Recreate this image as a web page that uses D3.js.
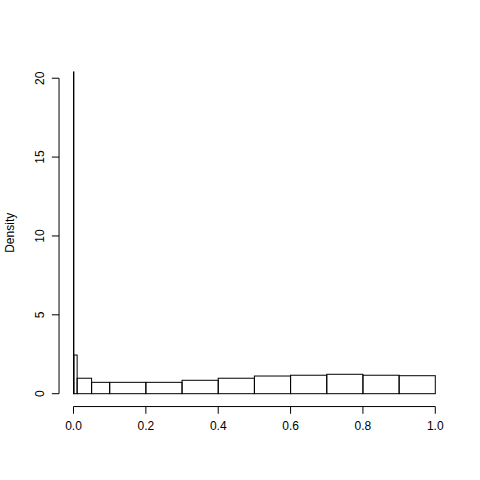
<!DOCTYPE html>
<html>
<head>
<meta charset="utf-8">
<script src="https://cdn.jsdelivr.net/npm/d3@7"></script>
<style>
  body { margin: 0; background: #fff; }
  text { font-family: "Liberation Sans", Arial, sans-serif; font-size: 12px; fill: #000; }
</style>
</head>
<body>
<svg width="480" height="480"></svg>
<script>
// histogram breaks and densities
const breaks = [0, 0.001, 0.01, 0.05, 0.1, 0.2, 0.3, 0.4, 0.5, 0.6, 0.7, 0.8, 0.9, 1.0];
const density = [20.4, 2.45, 0.98, 0.72, 0.72, 0.72, 0.85, 0.98, 1.12, 1.17, 1.23, 1.17, 1.14];
const xTicks = [0, 0.2, 0.4, 0.6, 0.8, 1.0];
const yTicks = [0, 5, 10, 15, 20];

const svg = d3.select("svg");
const plot = { left: 59.04, right: 449.76, top: 59.04, bottom: 406.56 };

// R style 4% padding on each side
const pad = (a, b) => { const d = (b - a) * 0.04; return [a - d, b + d]; };
const yMax = d3.max(density);

const x = d3.scaleLinear().domain(pad(0, 1)).range([plot.left, plot.right]);
const y = d3.scaleLinear().domain(pad(0, yMax)).range([plot.bottom, plot.top]);

const bins = density.map((d, i) => ({ x0: breaks[i], x1: breaks[i + 1], d }));

svg.append("g")
  .selectAll("rect")
  .data(bins)
  .enter()
  .append("rect")
  .attr("x", (d) => x(d.x0))
  .attr("y", (d) => y(d.d))
  .attr("width", (d) => x(d.x1) - x(d.x0))
  .attr("height", (d) => y(0) - y(d.d))
  .attr("fill", "none")
  .attr("stroke", "#000")
  .attr("stroke-width", 1);

// x axis
const xa = svg.append("g");
xa.append("line")
  .attr("x1", x(0)).attr("x2", x(1))
  .attr("y1", plot.bottom).attr("y2", plot.bottom)
  .attr("stroke", "#000");
xa.selectAll(".tick")
  .data(xTicks)
  .enter()
  .append("line")
  .attr("x1", (d) => x(d)).attr("x2", (d) => x(d))
  .attr("y1", plot.bottom).attr("y2", plot.bottom + 7.2)
  .attr("stroke", "#000");
xa.selectAll("text")
  .data(xTicks)
  .enter()
  .append("text")
  .attr("x", (d) => x(d))
  .attr("y", plot.bottom + 23.5)
  .attr("text-anchor", "middle")
  .text((d) => d.toFixed(1));

// y axis
const ya = svg.append("g");
ya.append("line")
  .attr("x1", plot.left).attr("x2", plot.left)
  .attr("y1", y(0)).attr("y2", y(20))
  .attr("stroke", "#000");
ya.selectAll(".tick")
  .data(yTicks)
  .enter()
  .append("line")
  .attr("x1", plot.left - 7.2).attr("x2", plot.left)
  .attr("y1", (d) => y(d)).attr("y2", (d) => y(d))
  .attr("stroke", "#000");
ya.selectAll("text")
  .data(yTicks)
  .enter()
  .append("text")
  .attr("transform", (d) => `translate(${plot.left - 15.5},${y(d)}) rotate(-90)`)
  .attr("text-anchor", "middle")
  .text((d) => d);

svg.append("text")
  .attr("transform", `translate(14,${(plot.top + plot.bottom) / 2}) rotate(-90)`)
  .attr("text-anchor", "middle")
  .text("Density");
</script>
</body>
</html>
